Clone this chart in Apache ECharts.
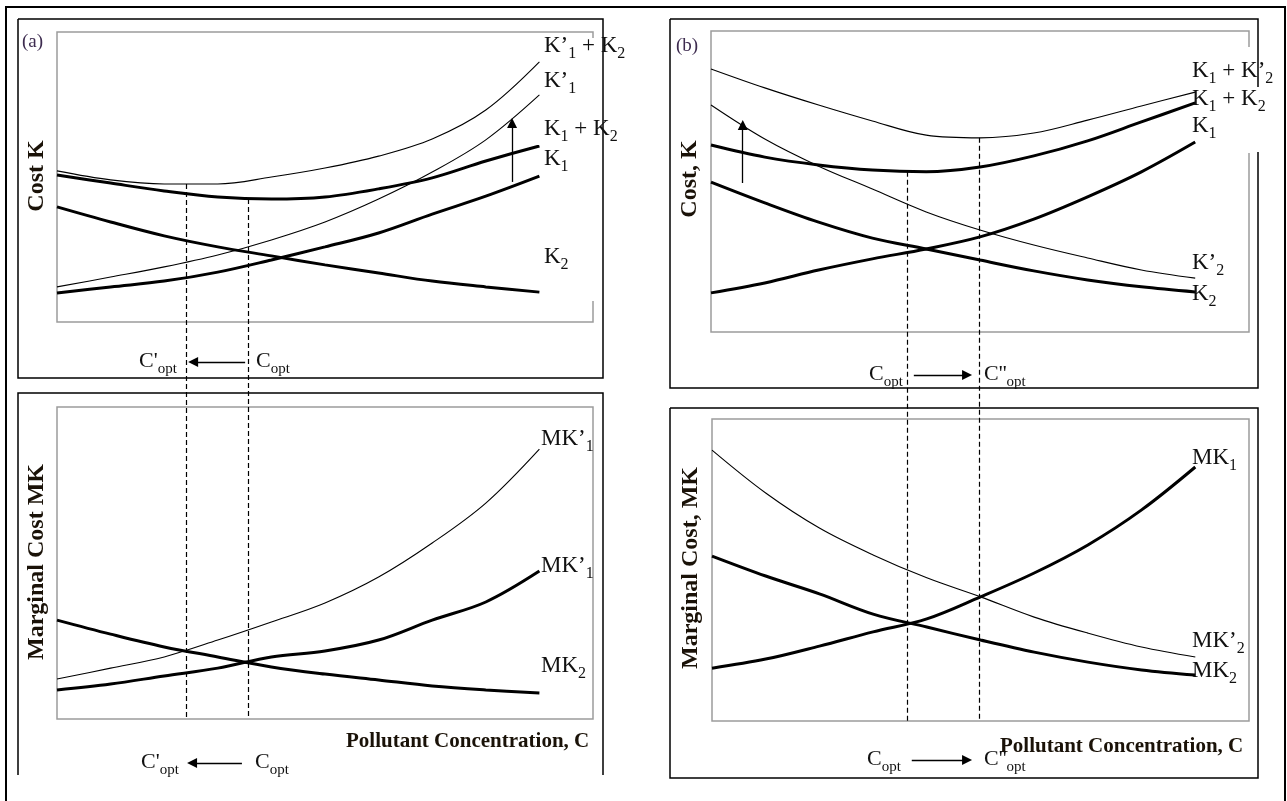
<!DOCTYPE html>
<html>
<head>
<meta charset="utf-8">
<script src="https://cdn.jsdelivr.net/npm/echarts@6/dist/echarts.min.js"></script>
<style>html,body{margin:0;padding:0;background:#fff}#c{width:1287px;height:801px}</style>
</head>
<body>
<div id="c"></div>
<script>
// ---------- data (x = pollutant concentration, y = cost, arbitrary 0-100 units) ----------
const X = [0, 10, 20, 30, 40, 50, 60, 70, 80, 90];

// panel (a) – total cost
const aK2     = [39.7, 34.5, 29.7, 25.9, 22.8, 19.7, 16.9, 14.1, 12.1, 10.3];
const aK1     = [10.0, 12.1, 14.1, 17.2, 21.4, 25.9, 30.7, 37.2, 43.4, 50.3];
const aK1K2   = [50.7, 47.9, 45.2, 43.1, 42.4, 43.1, 45.9, 49.7, 55.5, 60.7];
const aK1p    = [12.1, 15.5, 19.0, 23.1, 28.3, 34.5, 42.4, 51.7, 62.8, 78.3];
const aK1pK2  = [52.1, 49.0, 47.6, 47.6, 50.0, 53.1, 57.2, 63.1, 73.1, 89.7];
// panel (a) – marginal cost
const aMK2       = [31.7, 27.2, 23.1, 19.9, 16.7, 14.4, 12.5, 10.6, 9.3, 8.3];
const aMK1thick  = [9.3, 11.2, 13.8, 16.3, 19.9, 21.8, 25.3, 31.7, 37.5, 47.4];
const aMK1pThin  = [12.8, 16.3, 19.9, 25.3, 31.1, 37.2, 45.5, 56.4, 69.2, 86.5];
// panel (a) optimum concentrations [C'opt, Copt] and cost at optimum
const aOpt    = [24.1, 35.6];
const aOptTop = [47.6, 42.4];

// panel (b) – total cost
const bK2     = [49.8, 42.9, 36.5, 31.2, 27.6, 23.9, 20.3, 17.3, 15.0, 13.3];
const bK1     = [13.0, 16.3, 20.6, 24.3, 27.6, 31.6, 37.5, 44.9, 53.2, 63.1];
const bK1K2   = [62.1, 58.1, 55.5, 53.8, 53.2, 54.8, 58.5, 63.5, 69.8, 76.1];
const bK2p    = [75.4, 64.1, 55.1, 47.5, 39.9, 33.9, 28.9, 24.6, 20.6, 17.9];
const bK1K2p  = [87.4, 81.1, 75.4, 70.1, 65.4, 64.5, 66.1, 70.4, 75.1, 79.7];
// panel (b) – marginal cost
const bMK2p   = [89.7, 75.5, 63.9, 55.0, 47.4, 41.1, 34.4, 29.1, 24.5, 21.2];
const bMK2    = [54.6, 48.0, 42.1, 35.4, 31.1, 26.8, 22.8, 19.5, 16.9, 15.2];
const bMK1    = [17.5, 20.5, 24.8, 29.5, 33.8, 41.1, 49.0, 58.3, 69.9, 84.1];
// panel (b) optimum concentrations [Copt, C''opt] and cost at optimum
const bOpt    = [36.4, 49.8];
const bOptTop = [53.2, 64.5];

// ---------- helpers ----------
const SERIF = '"Liberation Serif", "Times New Roman", Times, serif';
const INK = '#111';
const pts = ys => X.map((x, i) => [x, ys[i]]);

function curve(gi, ys, thick) {
  return {
    type: 'line', xAxisIndex: gi, yAxisIndex: gi, data: pts(ys),
    smooth: 0.35, symbol: 'none', silent: true, animation: false,
    lineStyle: { color: '#000', width: thick ? 3 : 1.1 }, z: thick ? 4 : 3
  };
}
function seg(gi, coords, dashed, arrow) {
  return {
    type: 'lines', coordinateSystem: 'cartesian2d', xAxisIndex: gi, yAxisIndex: gi,
    clip: false, silent: true, animation: false,
    symbol: arrow ? ['none', 'triangle'] : 'none', symbolSize: 10,
    lineStyle: { color: '#000', width: dashed ? 1.2 : 1.3, type: dashed ? [5, 3] : 'solid', opacity: 1, curveness: 0 },
    itemStyle: { color: '#000' },
    data: [{ coords: coords }], z: 5
  };
}

// rich label: parts = [[text, isSub], ...]
function lab(x, y, parts, big, small, pad) {
  const text = parts.map(p => (p[1] ? '{s|' : '{m|') + p[0] + '}').join('');
  return {
    type: 'text', x: x, y: y, z: 100,
    style: {
      text: text, align: 'left', verticalAlign: 'middle',
      textAlign: 'left', textVerticalAlign: 'middle',
      rich: {
        m: { fontSize: big, fontFamily: SERIF, fill: INK, color: INK, lineHeight: big + 2, verticalAlign: 'top' },
        s: { fontSize: small, fontFamily: SERIF, fill: INK, color: INK, lineHeight: small, padding: [pad, 0, 0, 0], verticalAlign: 'top' }
      }
    }
  };
}
function vtitle(x, y, t) {
  return {
    type: 'text', x: x, y: y, rotation: Math.PI / 2, z: 100,
    style: { text: t, font: 'bold 24px ' + SERIF, fill: '#1a1208',
      align: 'center', verticalAlign: 'middle', textAlign: 'center', textVerticalAlign: 'middle' }
  };
}
function htitle(x, y, t) {
  return {
    type: 'text', x: x, y: y, z: 100,
    style: { text: t, font: 'bold 21px ' + SERIF, fill: '#1a1208',
      align: 'left', verticalAlign: 'middle', textAlign: 'left', textVerticalAlign: 'middle' }
  };
}
function frame(points, w) {
  return { type: 'polyline', z: 1, shape: { points: points }, style: { stroke: '#000', lineWidth: w, fill: null } };
}
function cover(x, y, w, h) {
  return { type: 'rect', z: 2, shape: { x: x, y: y, width: w, height: h }, style: { fill: '#fff' } };
}

const L = 23, S = 16, P = 11;  // curve label font sizes
const CB = 22, CS = 15, CP = 12; // C_opt labels

const grids = [
  { left: 57,  top: 32,  width: 536, height: 290 },
  { left: 57,  top: 407, width: 536, height: 312 },
  { left: 711, top: 31,  width: 538, height: 301 },
  { left: 712, top: 419, width: 537, height: 302 }
];
const hiddenAxis = (gi) => ({
  type: 'value', gridIndex: gi, min: 0, max: 100, show: false,
  axisLine: { show: false }, axisTick: { show: false }, axisLabel: { show: false }, splitLine: { show: false }
});

const option = {
  backgroundColor: '#fff',
  animation: false,
  grid: grids.map(g => Object.assign({ show: true, borderColor: '#9c9c9c', borderWidth: 1.5, backgroundColor: 'transparent', containLabel: false, outerBoundsMode: 'none' }, g)),
  xAxis: grids.map((g, i) => hiddenAxis(i)),
  yAxis: grids.map((g, i) => hiddenAxis(i)),
  series: [
    // (a) top
    curve(0, aK2, true), curve(0, aK1, true), curve(0, aK1K2, true),
    curve(0, aK1p, false), curve(0, aK1pK2, false),
    // (a) bottom
    curve(1, aMK2, true), curve(1, aMK1thick, true), curve(1, aMK1pThin, false),
    // (b) top
    curve(2, bK2, true), curve(2, bK1, true), curve(2, bK1K2, true),
    curve(2, bK2p, false), curve(2, bK1K2p, false),
    // (b) bottom
    curve(3, bMK2, true), curve(3, bMK1, true), curve(3, bMK2p, false),

    // dashed optimum lines (run from top panel down to the bottom of the marginal panel)
    seg(0, [[aOpt[0], aOptTop[0]], [aOpt[0], -136.9]], true, false),
    seg(0, [[aOpt[1], aOptTop[1]], [aOpt[1], -136.9]], true, false),
    seg(2, [[bOpt[0], bOptTop[0]], [bOpt[0], -129.2]], true, false),
    seg(2, [[bOpt[1], bOptTop[1]], [bOpt[1], -129.2]], true, false),

    // shift arrows
    seg(0, [[84.9, 48.3], [84.9, 68.6]], false, true),
    seg(2, [[5.9, 49.5], [5.9, 68.8]], false, true),
    seg(0, [[35.1, -13.8], [25.4, -13.8]], false, true),
    seg(1, [[34.5, -14.1], [25.2, -14.1]], false, true),
    seg(2, [[37.7, -14.3], [47.6, -14.3]], false, true),
    seg(3, [[37.2, -12.9], [47.5, -12.9]], false, true)
  ],
  graphic: { elements: [
    // frames
    frame([[6, 801], [6, 7], [1285, 7], [1285, 801]], 2),
    frame([[18, 19], [603, 19], [603, 378], [18, 378], [18, 19]], 1.5),
    frame([[18, 775], [18, 393], [603, 393], [603, 775]], 1.5),
    frame([[670, 19], [1258, 19], [1258, 388], [670, 388], [670, 19]], 1.5),
    frame([[670, 408], [1258, 408], [1258, 778], [670, 778], [670, 408]], 1.5),
    // white label boxes hiding parts of the frames
    cover(586, 38, 12, 263),
    cover(1244, 47, 10, 106),
    cover(1254, 87, 9, 65),

    // panel tags
    { type: 'text', x: 22, y: 42, z: 100, style: { text: '(a)', font: '19px ' + SERIF, fill: '#3d2b4f', align: 'left', verticalAlign: 'middle', textAlign: 'left', textVerticalAlign: 'middle' } },
    { type: 'text', x: 676, y: 46, z: 100, style: { text: '(b)', font: '19px ' + SERIF, fill: '#3d2b4f', align: 'left', verticalAlign: 'middle', textAlign: 'left', textVerticalAlign: 'middle' } },

    // axis titles
    vtitle(37, 176, 'Cost K'),
    vtitle(37, 562, 'Marginal Cost MK'),
    vtitle(690, 179, 'Cost, K'),
    vtitle(691, 568, 'Marginal Cost, MK'),
    htitle(346, 742, 'Pollutant Concentration, C'),
    htitle(1000, 747, 'Pollutant Concentration, C'),

    // (a) top curve labels
    lab(544, 47, [['K’', 0], ['1', 1], [' + K', 0], ['2', 1]], L, S, P),
    lab(544, 82, [['K’', 0], ['1', 1]], L, S, P),
    lab(544, 130, [['K', 0], ['1', 1], [' + K', 0], ['2', 1]], L, S, P),
    lab(544, 160, [['K', 0], ['1', 1]], L, S, P),
    lab(544, 258, [['K', 0], ['2', 1]], L, S, P),
    // (a) bottom curve labels
    lab(541, 440, [['MK’', 0], ['1', 1]], L, S, P),
    lab(541, 567, [['MK’', 0], ['1', 1]], L, S, P),
    lab(541, 667, [['MK', 0], ['2', 1]], L, S, P),
    // (b) top curve labels
    lab(1192, 72, [['K', 0], ['1', 1], [' + K’', 0], ['2', 1]], L, S, P),
    lab(1192, 100, [['K', 0], ['1', 1], [' + K', 0], ['2', 1]], L, S, P),
    lab(1192, 127, [['K', 0], ['1', 1]], L, S, P),
    lab(1192, 264, [['K’', 0], ['2', 1]], L, S, P),
    lab(1192, 295, [['K', 0], ['2', 1]], L, S, P),
    // (b) bottom curve labels
    lab(1192, 459, [['MK', 0], ['1', 1]], L, S, P),
    lab(1192, 642, [['MK’', 0], ['2', 1]], L, S, P),
    lab(1192, 672, [['MK', 0], ['2', 1]], L, S, P),

    // optimum labels
    lab(139, 362, [["C'", 0], ['opt', 1]], CB, CS, CP),
    lab(256, 362, [['C', 0], ['opt', 1]], CB, CS, CP),
    lab(141, 763, [["C'", 0], ['opt', 1]], CB, CS, CP),
    lab(255, 763, [['C', 0], ['opt', 1]], CB, CS, CP),
    lab(869, 375, [['C', 0], ['opt', 1]], CB, CS, CP),
    lab(984, 375, [["C''", 0], ['opt', 1]], CB, CS, CP),
    lab(867, 760, [['C', 0], ['opt', 1]], CB, CS, CP),
    lab(984, 760, [["C''", 0], ['opt', 1]], CB, CS, CP)
  ] }
};

const chart = echarts.init(document.getElementById('c'), null, { renderer: 'canvas' });
chart.setOption(option);
</script>
</body>
</html>
